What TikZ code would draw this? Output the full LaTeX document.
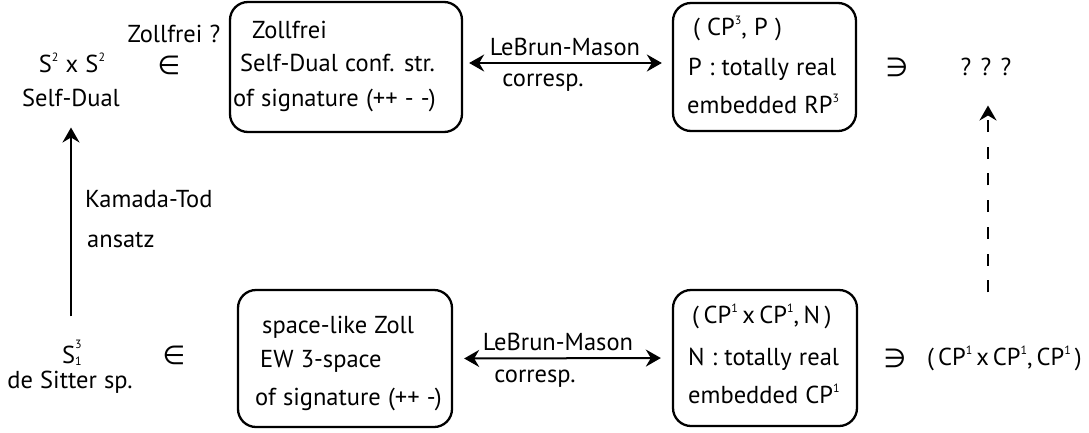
\documentclass[tikz,border=0pt]{standalone}
\usepackage{fontspec}
\setmainfont[WordSpace=1.1]{PT Sans}
\newfontfamily\symbfont{DejaVu Sans}
\usetikzlibrary{arrows.meta}
% small raised index after a letter
\newcommand\sups[1]{\raisebox{11pt}{\fontsize{12}{12}\selectfont #1}}
% stacked sub/superscript
\newcommand\subsup[2]{\rlap{\raisebox{15pt}{\fontsize{12}{12}\selectfont #2}}\raisebox{-2pt}{\fontsize{12}{12}\selectfont #1}}
\newcommand\elemof{{\fontsize{26}{26}\symbfont ∈}}
\newcommand\haselem{{\fontsize{26}{26}\symbfont ∋}}
\begin{document}
\begin{tikzpicture}[x=1pt,y=-1pt,
  >={Stealth[length=15pt,width=17pt,inset=5pt]},
  every node/.style={inner sep=0pt, font=\fontsize{24.5}{29}\selectfont},
  txt/.style={anchor=base west},
  ctxt/.style={anchor=base},
  framebox/.style={draw, line width=2.3pt, rounded corners=18pt},
  link/.style={line width=2pt},
  dashlink/.style={line width=2.6pt, dash pattern=on 12pt off 14.7pt}]
\useasboundingbox (0,0) rectangle (1089,432);

% ---- top row ----
\node[ctxt] (s2s2) at (72,72) {S\sups{2} x S\sups{2}};
\node[ctxt] (sd) at (71,106) {Self-Dual};
\node[ctxt] (zq) at (174,42) {Zollfrei ?};
\node (in1) at (169,65) {\elemof};

\node[framebox, minimum width=232pt, minimum height=130pt] (tl) at (346,67) {};
\node[txt] (tl1) at (252,38) {Zollfrei};
\node[txt] (tl2) at (240,71) {Self-Dual conf. str.};
\node[txt] (tl3) at (233,106) {of signature (++ - -)};

\node[ctxt] (lm1) at (565,55) {LeBrun-Mason};
\node[ctxt] (cr1) at (543,86) {corresp.};

\node[framebox, minimum width=183pt, minimum height=128pt] (tr) at (764.5,67) {};
\node[txt] (tr1) at (693,35) {( CP\sups{3}, P )};
\node[txt] (tr2) at (688,75) {P : totally real};
\node[txt] (tr3) at (687,113) {embedded RP\sups{3}};

\node (ni1) at (897,67) {\haselem};
\node[ctxt] (q) at (986,75) {? ? ?};

% ---- middle ----
\node[txt] (kt) at (85,207) {Kamada-Tod};
\node[txt] (an) at (87,247) {ansatz};

% ---- bottom row ----
\node[ctxt] (s13) at (72,363) {S\subsup{1}{3}};
\node[ctxt] (ds) at (70,388) {de Sitter sp.};
\node (in2) at (174,355) {\elemof};

\node[framebox, minimum width=214pt, minimum height=137pt] (bl) at (345,358.5) {};
\node[txt] (bl1) at (262,333) {space-like Zoll};
\node[txt] (bl2) at (260,367) {EW 3-space};
\node[txt] (bl3) at (255,405) {of signature (++ -)};

\node[ctxt] (lm2) at (558,350) {LeBrun-Mason};
\node[ctxt] (cr2) at (535,382) {corresp.};

\node[framebox, minimum width=184pt, minimum height=136pt] (br) at (765,358) {};
\node[txt] (br1) at (692,323) {\spaceskip=4.5pt ( CP\sups{1} x CP\sups{1}, N )};
\node[txt] (br2) at (688,365) {N : totally real};
\node[txt] (br3) at (688,403) {embedded CP\sups{1}};

\node (ni2) at (895,358) {\haselem};
\node[txt] (b3) at (927,365) {\spaceskip=4pt ( CP\sups{1} x CP\sups{1}, CP\sups{1} )};

% ---- connectors ----
\draw[link,<->,shorten <=6pt,shorten >=10pt] ([yshift=4pt]tl.east) -- ([yshift=4pt]tr.west);
\draw[link,<->,shorten <=11pt,shorten >=11pt] (bl.east) -- (br.west);
\draw[link,->,shorten <=23pt,shorten >=21pt] (sd.south |- s13.north) -- (sd.south);
\draw[dashlink,->,shorten <=53pt,shorten >=30pt] ([xshift=2pt]q.south |- b3.north) -- ([xshift=2pt]q.south);
\end{tikzpicture}
\end{document}
